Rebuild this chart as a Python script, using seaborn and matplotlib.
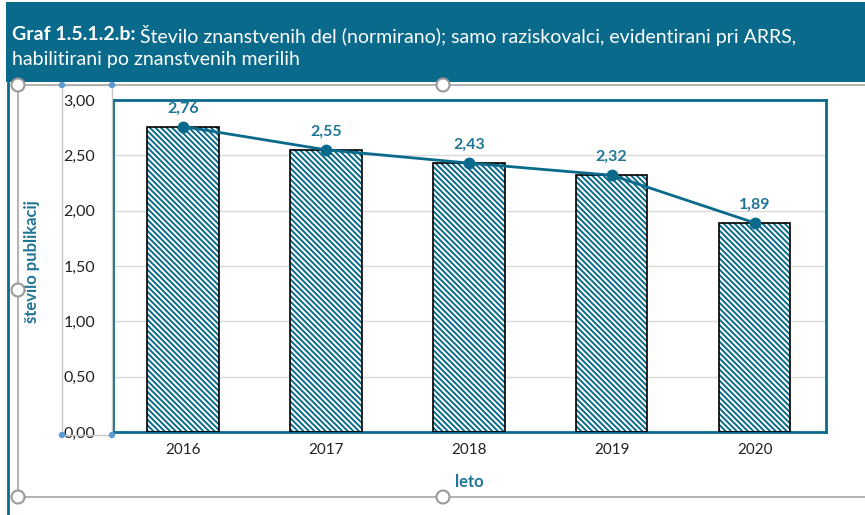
import matplotlib
matplotlib.use("Agg")
import matplotlib.pyplot as plt
import seaborn as sns
from matplotlib.patches import Rectangle, Circle
from matplotlib.lines import Line2D

years = ["2016", "2017", "2018", "2019", "2020"]
values = [2.76, 2.55, 2.43, 2.32, 1.89]
value_labels = ["2,76", "2,55", "2,43", "2,32", "1,89"]
y_ticks = [0.0, 0.5, 1.0, 1.5, 2.0, 2.5, 3.0]
y_tick_labels = ["0,00", "0,50", "1,00", "1,50", "2,00", "2,50", "3,00"]

TEAL = "#0a6a8c"
LABEL_TEAL = "#1f7596"
W, H = 865, 515

sns.set_theme(style="white")
plt.rcParams["font.family"] = ["Lato", "DejaVu Sans"]
plt.rcParams["hatch.linewidth"] = 1.4
plt.rcParams["hatch.color"] = TEAL

fig = plt.figure(figsize=(W / 100, H / 100), dpi=100)
fig.patch.set_facecolor("white")


def fx(px):
    return px / W


def fy(py):
    return 1 - py / H


# title banner
fig.patches.append(Rectangle((fx(6), fy(82)), fx(W), 80 / H, transform=fig.transFigure,
                             facecolor=TEAL, edgecolor="none", zorder=0))
fig.lines.append(Line2D([fx(8), fx(8)], [fy(82), 0], transform=fig.transFigure,
                        color=TEAL, lw=2))

# selection frame (from the screenshot)
gray = "#a6a6a6"
fig.lines.append(Line2D([fx(18), 1], [fy(85), fy(85)], transform=fig.transFigure, color=gray, lw=1.2))
fig.lines.append(Line2D([fx(18), 1], [fy(497), fy(497)], transform=fig.transFigure, color=gray, lw=1.2))
fig.lines.append(Line2D([fx(18), fx(18)], [fy(85), fy(497)], transform=fig.transFigure, color=gray, lw=1.2))
fig.patches.append(Rectangle((fx(62), fy(435)), fx(50), 350 / H, transform=fig.transFigure,
                             facecolor="none", edgecolor="#c8c8c8", lw=1))

ax = fig.add_axes([fx(113), fy(432), fx(826 - 113), (432 - 100) / H])

sns.barplot(x=years, y=values, ax=ax, width=0.5, color="white", saturation=1,
            edgecolor=TEAL, linewidth=0, zorder=2)
for p in ax.patches:
    p.set_hatch("\\" * 6)
ax.bar(range(len(years)), values, width=0.5, fill=False, edgecolor="black", linewidth=1.2, zorder=3)

ax.plot(range(len(years)), values, color=TEAL, lw=2, marker="o", markersize=7.5, zorder=4)
for i, (v, lab) in enumerate(zip(values, value_labels)):
    ax.annotate(lab, (i, v), xytext=(0, 8), textcoords="offset points", ha="center", va="bottom",
                fontsize=11.5, fontweight="bold", color=LABEL_TEAL, zorder=5)

ax.set_ylim(0, 3)
ax.set_xlim(-0.49, 4.5)
ax.set_yticks(y_ticks)
ax.set_yticklabels(y_tick_labels, fontsize=11.5, color="#222222")
ax.tick_params(axis="y", length=0, pad=13)
ax.tick_params(axis="x", length=0, pad=8, labelsize=11, labelcolor="#222222")
ax.yaxis.grid(True, color="#d9d9d9", lw=1)
ax.set_axisbelow(True)
for s in ax.spines.values():
    s.set_color(TEAL)
    s.set_linewidth(2)

ax.set_xlabel("leto", fontsize=12, fontweight="bold", color=LABEL_TEAL, labelpad=12)
fig.text(fx(32), fy(262), "število publikacij", rotation=90, ha="center", va="center",
         fontsize=12, fontweight="bold", color=LABEL_TEAL)

# title text, bold prefix then regular rest
t1 = fig.text(fx(12), fy(35), "Graf 1.5.1.2.b:", fontsize=14, fontweight="bold", color="white",
              va="center", ha="left")
fig.canvas.draw()
bb = t1.get_window_extent()
fig.text(bb.x1 / W + fx(4), fy(35),
         "Število znanstvenih del (normirano); samo raziskovalci, evidentirani pri ARRS,",
         fontsize=14, color="white", va="center", ha="left")
fig.text(fx(12), fy(59), "habilitirani po znanstvenih merilih", fontsize=14, color="white",
         va="center", ha="left")

# selection handles, sized in inches so they stay round
for cx, cy in [(18, 85), (443, 85), (18, 290), (18, 497), (443, 497)]:
    fig.patches.append(Circle((cx / 100, (H - cy) / 100), 0.065, transform=fig.dpi_scale_trans,
                              facecolor="white", edgecolor="#9a9a9a", lw=1.5, zorder=10))
for cx, cy in [(62, 85), (112, 85), (62, 435), (112, 435)]:
    fig.patches.append(Circle((cx / 100, (H - cy) / 100), 0.025, transform=fig.dpi_scale_trans,
                              facecolor="#5b9bd5", edgecolor="#5b9bd5", zorder=10))

fig.savefig("out.png", dpi=100)
